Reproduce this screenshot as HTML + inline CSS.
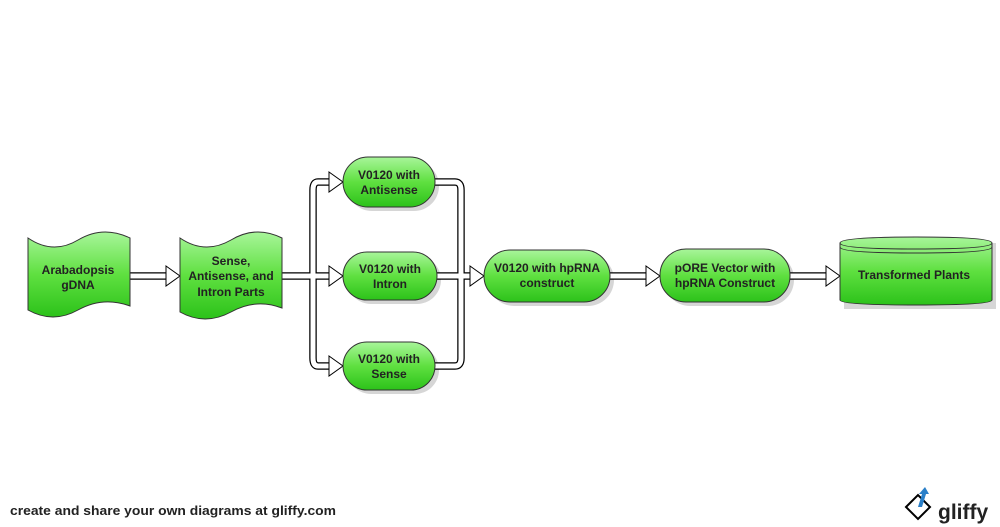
<!DOCTYPE html>
<html><head><style>body{margin:0;background:#fff}svg{display:block}</style></head><body>
<svg width="1000" height="527" viewBox="0 0 1000 527" xmlns="http://www.w3.org/2000/svg" font-family="Liberation Sans, Arial, sans-serif">
<defs>
<linearGradient id="g" x1="0" y1="0" x2="0" y2="1"><stop offset="0" stop-color="#a8f59a"/><stop offset="0.5" stop-color="#5fe040"/><stop offset="1" stop-color="#2cc21a"/></linearGradient>
</defs>
<g fill="#bbb" opacity="0.6">
<rect x="347" y="161" width="92" height="50" rx="25"/>
<rect x="347" y="256" width="94" height="48" rx="24"/>
<rect x="347" y="346" width="92" height="48" rx="24"/>
<rect x="488" y="254" width="126" height="52" rx="26"/>
<rect x="664" y="253" width="130" height="53" rx="26"/>
<rect x="844" y="243" width="152" height="66"/>
</g>
<g fill="none" stroke-linejoin="round">
<g stroke="#000" stroke-width="7.5">
<path d="M130 276 H168"/>
<path d="M282 276 H331"/>
<path d="M331 182 H318 Q313 182 313 190 V358 Q313 366 318 366 H331"/>
<path d="M435 182 H455 Q461 182 461 190 V358 Q461 366 455 366 H435"/>
<path d="M437 276 H472"/>
<path d="M610 276 H648"/>
<path d="M790 276 H828"/>
</g>
<g stroke="#fff" stroke-width="5">
<path d="M130 276 H168"/>
<path d="M282 276 H331"/>
<path d="M331 182 H318 Q313 182 313 190 V358 Q313 366 318 366 H331"/>
<path d="M435 182 H455 Q461 182 461 190 V358 Q461 366 455 366 H435"/>
<path d="M437 276 H472"/>
<path d="M610 276 H648"/>
<path d="M790 276 H828"/>
</g>
</g>
<g fill="#fff" stroke="#000" stroke-width="1">
<polygon points="166,266 180,276 166,286"/>
<polygon points="329,172 343,182 329,192"/>
<polygon points="329,266 343,276 329,286"/>
<polygon points="329,356 343,366 329,376"/>
<polygon points="470,266 484,276 470,286"/>
<polygon points="646,266 660,276 646,286"/>
<polygon points="826,266 840,276 826,286"/>
</g>
<g fill="url(#g)" stroke="#333" stroke-width="1">
<path d="M28 238 Q53 255 78 240 Q103 225 130 238 V306 Q103 296 78 310 Q53 324 28 310 Z"/>
<path d="M180 238 Q205 255 231 240 Q256 225 282 238 V308 Q256 298 231 312 Q205 326 180 312 Z"/>
<rect x="343" y="157" width="92" height="50" rx="25"/>
<rect x="343" y="252" width="94" height="48" rx="24"/>
<rect x="343" y="342" width="92" height="48" rx="24"/>
<rect x="484" y="250" width="126" height="52" rx="26"/>
<rect x="660" y="249" width="130" height="53" rx="26"/>
<path d="M840 243 Q840 237 916 237 Q992 237 992 243 V300 Q992 305 916 305 Q840 305 840 300 Z"/>
<path d="M840 243 Q840 249 916 249 Q992 249 992 243" fill="none"/>
<path d="M840 247 Q840 253 916 253 Q992 253 992 247" fill="none"/>
</g>
<g font-size="12" font-weight="bold" fill="#222" text-anchor="middle">
<text x="78" y="274">Arabadopsis</text><text x="78" y="289">gDNA</text>
<text x="231" y="265">Sense,</text><text x="231" y="280">Antisense, and</text><text x="231" y="296">Intron Parts</text>
<text x="389" y="179">V0120 with</text><text x="389" y="194">Antisense</text>
<text x="390" y="273">V0120 with</text><text x="390" y="288">Intron</text>
<text x="389" y="363">V0120 with</text><text x="389" y="378">Sense</text>
<text x="547" y="272">V0120 with hpRNA</text><text x="547" y="287">construct</text>
<text x="725" y="272">pORE Vector with</text><text x="725" y="287">hpRNA Construct</text>
<text x="914" y="279">Transformed Plants</text>
</g>
<text x="10" y="515" font-size="13" font-weight="bold" fill="#222" textLength="326" lengthAdjust="spacingAndGlyphs">create and share your own diagrams at gliffy.com</text>
<polygon points="906,507 918,495 930,507 918,519" fill="#fff" stroke="#000" stroke-width="2"/>
<path d="M918 507 L922 494 L919 494 L925 487 L929 494 L926 494 L922 507 Z" fill="#2a7fc8"/>
<text x="938" y="519" font-size="21" font-weight="bold" fill="#222">gliffy</text>
</svg>
</body></html>
